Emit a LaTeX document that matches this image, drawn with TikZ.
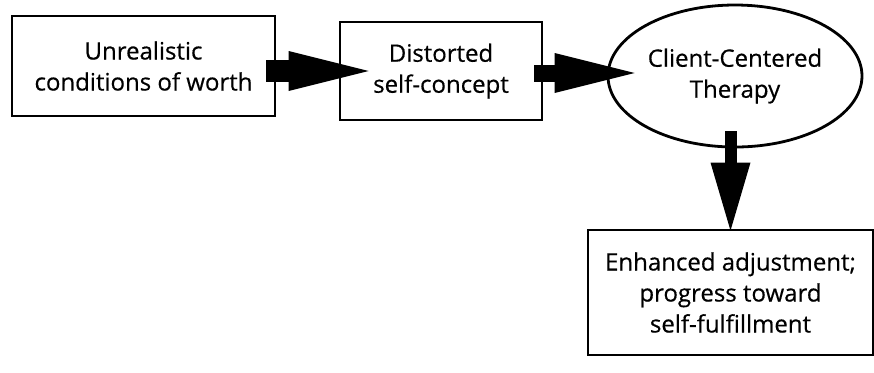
\documentclass[tikz,border=0pt]{standalone}
\usepackage{fontspec}
\setmainfont{Open Sans}[FakeBold=0.5]
\usetikzlibrary{arrows.meta,shapes.geometric}

\tikzset{
  box/.style={draw, line width=1.4pt, align=center, inner sep=0pt,
    font=\fontsize{12}{15.5}\selectfont},
  fatarrow/.style 2 args={line width=#1, -{Triangle[length=#2, width=20pt, line width=0pt]}}
}

\begin{document}
\begin{tikzpicture}[x=0.5pt,y=-0.5pt]
\useasboundingbox (0,0) rectangle (874,372);
\node[box, minimum width=131.5pt, minimum height=50pt] (worth) at (143.5,66) {Unrealistic\\conditions of worth};
\node[box, minimum width=101pt, minimum height=49pt] (self) at (441,71) {Distorted\\self-concept};
\node[box, ellipse, minimum width=127pt, minimum height=71pt] (therapy) at (735,76) {Client-Centered\\Therapy};
\node[box, minimum width=142.5pt, minimum height=62.5pt] (adjust) at (730.5,292.5) {Enhanced adjustment;\\progress toward\\self-fulfillment};
% block arrows
\draw[fatarrow={11pt}{40pt}] ([xshift=-5pt]worth.east |- self.west) -- ([xshift=15pt]self.west);
\draw[fatarrow={8.5pt}{40pt}] ([xshift=-4.5pt,yshift=1.5pt]self.east |- therapy.west) -- ([xshift=14pt,yshift=1.5pt]therapy.west);
\draw[fatarrow={6pt}{34pt}] ([yshift=8.5pt]adjust.north |- therapy.south) -- ([yshift=-1pt]adjust.north);
\end{tikzpicture}
\end{document}
